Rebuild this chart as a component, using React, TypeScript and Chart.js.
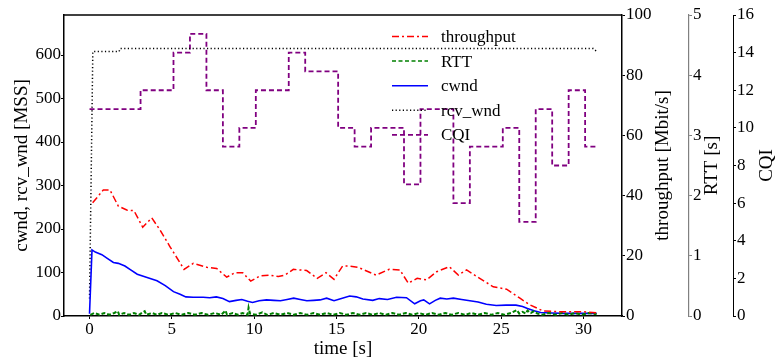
import React, { useEffect, useRef } from "react";
import { Chart, registerables } from "chart.js";

Chart.register(...registerables);

const FONT = '"Liberation Serif", "Times New Roman", Times, serif';

// axis ticks
const X_TICKS = [0, 5, 10, 15, 20, 25, 30];
const LEFT_TICKS = [0, 100, 200, 300, 400, 500, 600];
const THR_TICKS = [0, 20, 40, 60, 80, 100];
const RTT_TICKS = [0, 1, 2, 3, 4, 5];
const CQI_TICKS = [0, 2, 4, 6, 8, 10, 12, 14, 16];

// throughput [Mbit/s]
const THR_T = [0.19, 0.84, 1.24, 1.75, 2.26, 2.7, 3.23, 3.78, 4.28, 4.89, 5.74, 6.3, 7.12, 7.72, 8.33, 8.83, 9.3, 9.79, 10.35, 10.92, 11.47, 11.87, 12.38, 13.19, 13.83, 14.36, 14.85, 15.37, 15.8, 16.3, 17.4, 18.2, 18.85, 19.36, 19.9, 20.47, 21.08, 21.85, 22.4, 22.9, 23.7, 24.52, 25.33, 26.14, 26.75, 27.55, 28.77, 29.98, 30.8];
const THR_V = [37.6, 41.9, 41.9, 36.5, 35.2, 35.0, 29.5, 32.6, 28.6, 23.0, 15.5, 17.5, 16.2, 15.8, 12.9, 14.4, 14.4, 11.6, 13.3, 13.6, 13.1, 13.6, 15.5, 15.1, 12.5, 14.4, 12.2, 16.6, 16.6, 16.2, 13.6, 15.5, 15.3, 10.9, 12.5, 12.0, 14.7, 16.4, 13.6, 15.3, 12.5, 9.7, 8.9, 5.9, 3.7, 1.66, 1.4, 1.4, 1.1];

// RTT [s]
const RTT_T = [0.05, 0.3, 0.6, 0.9, 1.2, 1.5, 1.72, 1.8, 2.1, 2.4, 2.7, 3.0, 3.35, 3.45, 3.8, 4.1, 4.4, 4.8, 5.2, 5.6, 6.0, 6.4, 6.8, 7.2, 7.6, 8.0, 8.26, 8.35, 8.7, 9.0, 9.3, 9.6, 9.66, 9.75, 10.1, 10.5, 10.8, 11.2, 11.6, 12.0, 12.4, 12.8, 13.2, 13.6, 14.0, 14.4, 14.8, 15.2, 15.6, 16.0, 16.4, 16.8, 17.2, 17.6, 18.0, 18.4, 18.8, 19.2, 19.6, 20.0, 20.4, 20.8, 21.2, 21.6, 22.0, 22.4, 22.8, 23.2, 23.6, 24.0, 24.4, 24.8, 25.2, 25.6, 25.95, 26.1, 26.3, 26.5, 26.6, 26.8, 27.0, 27.2, 27.5, 27.9, 28.3, 28.7, 29.1, 29.5, 29.9, 30.3, 30.8];
const RTT_V = [0.02, 0.05, 0.02, 0.05, 0.02, 0.05, 0.08, 0.02, 0.05, 0.02, 0.05, 0.02, 0.08, 0.02, 0.05, 0.02, 0.05, 0.02, 0.05, 0.02, 0.05, 0.02, 0.05, 0.02, 0.05, 0.02, 0.09, 0.02, 0.05, 0.02, 0.05, 0.02, 0.14, 0.04, 0.02, 0.06, 0.02, 0.05, 0.02, 0.05, 0.02, 0.05, 0.02, 0.05, 0.02, 0.05, 0.02, 0.05, 0.02, 0.05, 0.02, 0.05, 0.02, 0.05, 0.02, 0.05, 0.02, 0.05, 0.02, 0.05, 0.02, 0.05, 0.02, 0.05, 0.02, 0.05, 0.02, 0.05, 0.02, 0.05, 0.02, 0.05, 0.02, 0.05, 0.1, 0.04, 0.07, 0.04, 0.09, 0.05, 0.08, 0.04, 0.02, 0.05, 0.02, 0.05, 0.02, 0.05, 0.02, 0.05, 0.03];

// cwnd [MSS]
const CWND_T = [0, 0.15, 0.35, 0.75, 1.1, 1.45, 1.75, 2.15, 2.5, 2.9, 3.45, 4.1, 4.6, 5.1, 5.5, 5.85, 6.3, 6.9, 7.3, 7.7, 8.1, 8.5, 8.9, 9.25, 9.6, 9.9, 10.3, 10.75, 11.2, 11.6, 12.0, 12.4, 12.8, 13.2, 13.6, 14.0, 14.4, 14.85, 15.3, 15.8, 16.2, 16.6, 17.2, 17.6, 18.1, 18.65, 19.25, 19.75, 20.1, 20.3, 20.65, 21.0, 21.3, 21.7, 22.1, 22.6, 23.1, 23.6, 24.1, 24.7, 25.3, 25.9, 26.3, 26.6, 27.0, 27.4, 28.0, 28.8, 29.5, 30.2, 30.8];
const CWND_V = [5, 152, 147, 141, 132, 123, 121, 115, 106, 96, 89, 81, 70, 56, 50, 44, 43, 43, 42, 44, 40, 33, 36, 38, 34, 31, 35, 37, 36, 35, 38, 41, 38, 35, 36, 37, 41, 35, 40, 46, 44, 39, 36, 40, 38, 43, 42, 28, 35, 37, 28, 36, 41, 39, 41, 38, 35, 32, 27, 24, 25, 25, 22, 17, 12, 8, 7, 6, 6, 6, 6];

// rcv_wnd [MSS]
const RWND_T = [0, 0.2, 1.8, 1.85, 30.6, 30.8];
const RWND_V = [40, 608, 608, 615, 615, 608];

// CQI (step)
const CQI_T = [0, 3.1, 5.1, 6.1, 7.1, 8.1, 9.1, 10.1, 12.1, 13.1, 15.1, 16.1, 17.1, 19.1, 20.1, 22.1, 23.1, 25.1, 26.1, 27.1, 28.1, 29.1, 30.1, 30.8];
const CQI_V = [11, 12, 14, 15, 12, 9, 10, 12, 14, 13, 10, 9, 10, 7, 11, 6, 9, 10, 5, 11, 8, 12, 9, 9];

const X_MIN = -1.55;
const X_MAX = 32.34;
const LEFT_MAX = 692;

const pts = (t: number[], v: number[]) => t.map((x, i) => ({ x, y: v[i] }));

const LEGEND = [
  { label: "throughput", color: "#ff0000", dash: [7, 3, 2, 3], width: 1.5 },
  { label: "RTT", color: "#008000", dash: [4, 2.5], width: 1.5 },
  { label: "cwnd", color: "#0000ff", dash: [], width: 1.5 },
  { label: "rcv_wnd", color: "#000000", dash: [1.2, 2.4], width: 1.5 },
  { label: "CQI", color: "#800080", dash: [5, 3], width: 1.8 },
];

const RIGHT_TITLES = [
  { text: "throughput [Mbit/s]", x: 663 },
  { text: "RTT [s]", x: 712 },
  { text: "CQI", x: 767 },
];

export default function App() {
  const ref = useRef<HTMLCanvasElement | null>(null);

  useEffect(() => {
    document.body.style.margin = "0";
    const canvas = ref.current;
    if (!canvas) return;

    const setTicks = (vals: number[]) => (s: any) => {
      s.ticks = vals.map((v) => ({ value: v }));
    };

    const tickFont = { family: FONT, size: 17 };
    const titleFont = { family: FONT, size: 19 };

    const overlay = {
      id: "overlay",
      afterDraw(chart: any) {
        const ctx = chart.ctx;
        const a = chart.chartArea;
        ctx.save();
        // top border
        ctx.strokeStyle = "#000";
        ctx.lineWidth = 1.5;
        ctx.setLineDash([]);
        ctx.beginPath();
        ctx.moveTo(a.left, a.top);
        ctx.lineTo(a.right, a.top);
        ctx.stroke();

        // right axis titles (rotated like matplotlib)
        ctx.fillStyle = "#000";
        ctx.font = `19px ${FONT}`;
        ctx.textAlign = "center";
        ctx.textBaseline = "middle";
        const midY = (a.top + a.bottom) / 2;
        for (const t of RIGHT_TITLES) {
          ctx.save();
          ctx.translate(t.x, midY);
          ctx.rotate(-Math.PI / 2);
          ctx.fillText(t.text, 0, 0);
          ctx.restore();
        }

        // legend
        ctx.font = `17px ${FONT}`;
        ctx.textAlign = "left";
        ctx.textBaseline = "middle";
        const y0 = 36.5;
        const dy = 24.6;
        LEGEND.forEach((it, i) => {
          const y = y0 + i * dy;
          ctx.strokeStyle = it.color;
          ctx.lineWidth = it.width;
          ctx.setLineDash(it.dash);
          ctx.beginPath();
          ctx.moveTo(392, y);
          ctx.lineTo(428, y);
          ctx.stroke();
          ctx.setLineDash([]);
          ctx.fillStyle = "#000";
          ctx.fillText(it.label, 441, y + 1);
        });
        ctx.restore();
      },
    };

    const yAxisCommon = (color: string) => ({
      grid: { drawOnChartArea: false, drawTicks: true, tickLength: 3, color, tickWidth: 1 },
      ticks: { font: tickFont, color: "#000", padding: 1, autoSkip: false },
    });

    const chart = new Chart(canvas, {
      type: "line",
      data: {
        datasets: [
          {
            label: "throughput",
            data: pts(THR_T, THR_V),
            yAxisID: "yT",
            borderColor: "#ff0000",
            borderDash: [7, 3, 2, 3],
            borderWidth: 1.5,
            pointRadius: 0,
            tension: 0,
          },
          {
            label: "RTT",
            data: pts(RTT_T, RTT_V),
            yAxisID: "yR",
            borderColor: "#008000",
            borderDash: [4, 2],
            borderWidth: 2,
            pointRadius: 0,
            tension: 0,
          },
          {
            label: "cwnd",
            data: pts(CWND_T, CWND_V),
            yAxisID: "y",
            borderColor: "#0000ff",
            borderWidth: 1.6,
            pointRadius: 0,
            tension: 0,
          },
          {
            label: "rcv_wnd",
            data: pts(RWND_T, RWND_V),
            yAxisID: "y",
            borderColor: "#000000",
            borderDash: [1.2, 2.4],
            borderWidth: 1.5,
            pointRadius: 0,
            tension: 0,
          },
          {
            label: "CQI",
            data: pts(CQI_T, CQI_V),
            yAxisID: "yC",
            borderColor: "#800080",
            borderDash: [5, 3],
            borderWidth: 1.8,
            pointRadius: 0,
            stepped: true,
            tension: 0,
          },
        ],
      },
      options: {
        animation: false,
        responsive: false,
        devicePixelRatio: 1,
        layout: { padding: { top: 15, left: 0, right: 0, bottom: 0 } },
        plugins: { legend: { display: false }, tooltip: { enabled: false } },
        scales: {
          x: {
            type: "linear",
            position: "bottom",
            min: X_MIN,
            max: X_MAX,
            afterBuildTicks: setTicks(X_TICKS),
            afterFit: (s: any) => {
              s.height = 47;
            },
            grid: { drawOnChartArea: false, drawTicks: true, tickLength: 3, color: "#000" },
            border: { display: true, color: "#000", width: 1.5 },
            ticks: { font: tickFont, color: "#000", padding: 0, maxRotation: 0, autoSkip: false },
            title: { display: true, text: "time [s]", font: titleFont, color: "#000", padding: { top: 0, bottom: 3 } },
          },
          y: {
            type: "linear",
            position: "left",
            min: 0,
            max: LEFT_MAX,
            afterBuildTicks: setTicks(LEFT_TICKS),
            afterFit: (s: any) => {
              s.width = 64;
            },
            ...yAxisCommon("#000"),
            ticks: { font: tickFont, color: "#000", padding: 0, autoSkip: false },
            border: { display: true, color: "#000", width: 1.5 },
            title: { display: true, text: "cwnd, rcv_wnd [MSS]", font: titleFont, color: "#000", padding: { top: 11, bottom: 0 } },
          },
          yT: {
            type: "linear",
            position: "right",
            weight: 0,
            min: 0,
            max: 100,
            afterBuildTicks: setTicks(THR_TICKS),
            afterFit: (s: any) => {
              s.width = 67;
            },
            ...yAxisCommon("#000"),
            border: { display: true, color: "#000", width: 1.5 },
          },
          yR: {
            type: "linear",
            position: "right",
            weight: 1,
            min: 0,
            max: 5,
            afterBuildTicks: setTicks(RTT_TICKS),
            afterFit: (s: any) => {
              s.width = 44;
            },
            ...yAxisCommon("#808080"),
            border: { display: true, color: "#808080", width: 1.2 },
          },
          yC: {
            type: "linear",
            position: "right",
            weight: 2,
            min: 0,
            max: 16,
            afterBuildTicks: setTicks(CQI_TICKS),
            afterFit: (s: any) => {
              s.width = 45;
            },
            ...yAxisCommon("#000"),
            border: { display: true, color: "#000", width: 1 },
          },
        },
      } as any,
      plugins: [overlay],
    });

    return () => {
      chart.destroy();
    };
  }, []);

  return (
    <div style={{ position: "fixed", left: 0, top: 0, width: 778, height: 363, background: "#fff" }}>
      <canvas ref={ref} width={778} height={363} style={{ width: 778, height: 363, display: "block" }} />
    </div>
  );
}
